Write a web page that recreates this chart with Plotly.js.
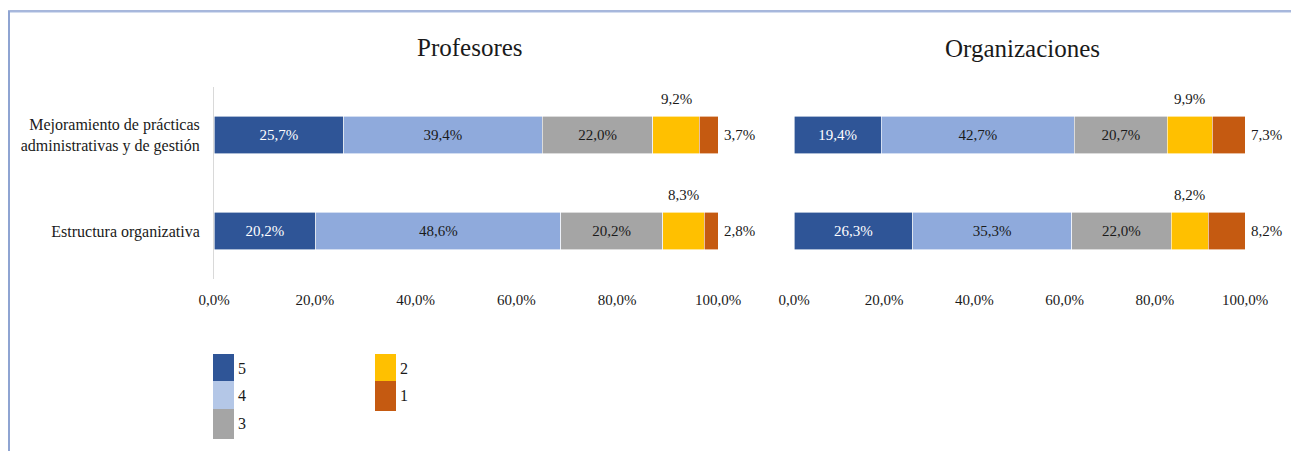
<!DOCTYPE html>
<html>
<head>
<meta charset="utf-8">
<script src="https://cdn.plot.ly/plotly-3.0.1.min.js"></script>
<style>html,body{margin:0;padding:0;background:#fff;} #chart{width:1291px;height:451px;}</style>
</head>
<body>
<div id="chart"></div>
<script>
// ---- Data ----
const categories = ['Mejoramiento de prácticas<br>administrativas y de gestión', 'Estructura organizativa'];
const levels = ['5', '4', '3', '2', '1'];
const panelTitles = ['Profesores', 'Organizaciones'];
// values per category, in order of levels 5,4,3,2,1
const profMejoramiento = [25.7, 39.4, 22.0, 9.2, 3.7];
const profEstructura   = [20.2, 48.6, 20.2, 8.3, 2.8];
const orgMejoramiento  = [19.4, 42.7, 20.7, 9.9, 7.3];
const orgEstructura    = [26.3, 35.3, 22.0, 8.2, 8.2];
const tickValues = [0, 20, 40, 60, 80, 100];

// ---- Styles ----
const barColors = ['#2f5597', '#8faadc', '#a5a5a5', '#ffc000', '#c55a11'];
const legendColors = ['#2f5597', '#b4c7e7', '#a5a5a5', '#ffc000', '#c55a11'];
const insideTextColors = ['#ffffff', '#1a1a1a', '#1a1a1a', '#1a1a1a', '#1a1a1a'];
const FONT = '"Liberation Serif", "DejaVu Serif", "Times New Roman", serif';
const W = 1291, H = 451;
const px = v => v / W;
const py = v => 1 - v / H;

const panels = [
  {rows: [profMejoramiento, profEstructura], xa: 'x', ya: 'y'},
  {rows: [orgMejoramiento, orgEstructura], xa: 'x2', ya: 'y2'}
];

const traces = [];
const annotations = [];
const fmt = v => v.toFixed(1).replace('.', ',') + '%';

panels.forEach((p, pi) => {
  levels.forEach((lv, li) => {
    const xs = p.rows.map(r => r[li]);
    traces.push({
      type: 'bar',
      orientation: 'h',
      name: lv,
      x: xs,
      y: categories,
      xaxis: p.xa,
      yaxis: p.ya,
      width: 0.39,
      marker: {color: barColors[li], line: {color: '#ffffff', width: 0.6}},
      text: li < 3 ? xs.map(fmt) : xs.map(() => ''),
      textposition: li < 3 ? 'inside' : 'none',
      insidetextanchor: 'middle',
      textfont: {family: FONT, size: 15, color: insideTextColors[li]},
      constraintext: 'none',
      hoverinfo: 'x+name',
      showlegend: false
    });
  });
  // outside labels for levels 2 and 1
  p.rows.forEach((r, ci) => {
    const cum = r.slice(0, 3).reduce((a, b) => a + b, 0);
    annotations.push({
      xref: p.xa, yref: p.ya, x: cum + r[3] / 2, y: categories[ci],
      xanchor: 'center', yanchor: 'middle',
      text: fmt(r[3]), showarrow: false, yshift: 36,
      font: {family: FONT, size: 15, color: '#1a1a1a'}
    });
    const total = cum + r[3] + r[4];
    annotations.push({
      xref: p.xa, yref: p.ya, x: Math.min(total, 100), y: categories[ci],
      text: fmt(r[4]), showarrow: false, xanchor: 'left', yanchor: 'middle', xshift: 4,
      font: {family: FONT, size: 15, color: '#1a1a1a'}
    });
  });
});

// Panel titles
annotations.push({xref: 'paper', yref: 'paper', x: px(470), y: py(47), xanchor: 'center', yanchor: 'middle',
  text: panelTitles[0], showarrow: false, font: {family: FONT, size: 25, color: '#1a1a1a'}});
annotations.push({xref: 'paper', yref: 'paper', x: px(1023), y: py(48), xanchor: 'center', yanchor: 'middle',
  text: panelTitles[1], showarrow: false, font: {family: FONT, size: 25, color: '#1a1a1a'}});

// Manual legend
const shapes = [];
const legendPos = [
  {x: 213, y: 354, h: 27}, {x: 213, y: 381, h: 28}, {x: 213, y: 409, h: 30},
  {x: 375, y: 354, h: 27}, {x: 375, y: 381, h: 30}
];
levels.forEach((lv, li) => {
  const lp = legendPos[li];
  shapes.push({type: 'rect', xref: 'paper', yref: 'paper',
    x0: px(lp.x), x1: px(lp.x + 21), y0: py(lp.y + lp.h), y1: py(lp.y),
    fillcolor: legendColors[li], line: {width: 0}});
  annotations.push({xref: 'paper', yref: 'paper', x: px(lp.x + 23), y: py(lp.y + 14),
    xanchor: 'left', yanchor: 'middle', text: lv, showarrow: false,
    font: {family: FONT, size: 16, color: '#1a1a1a'}});
});

// Frame lines
shapes.push({type: 'line', xref: 'paper', yref: 'paper', x0: px(8), x1: 1, y0: py(11), y1: py(11),
  line: {color: '#4f6fb6', width: 1}});
shapes.push({type: 'line', xref: 'paper', yref: 'paper', x0: px(8), x1: 1, y0: py(12), y1: py(12),
  line: {color: '#a9bbe0', width: 1}});
shapes.push({type: 'line', xref: 'paper', yref: 'paper', x0: px(9), x1: px(9), y0: py(11), y1: 0,
  line: {color: '#8fa4d2', width: 2}});

const xaxisCommon = {
  range: [0, 100], tickmode: 'array', tickvals: tickValues, ticktext: tickValues.map(fmt),
  showgrid: false, zeroline: false, showline: false, ticks: '',
  ticklabelstandoff: 10,
  tickfont: {family: FONT, size: 15, color: '#1a1a1a'}, fixedrange: true
};
const yaxisCommon = {
  autorange: 'reversed', showgrid: false, zeroline: false, ticks: '',
  domain: [py(279), py(87)], fixedrange: true,
  tickfont: {family: FONT, size: 16, color: '#1a1a1a'}
};

const layout = {
  width: W, height: H, autosize: false,
  margin: {l: 0, r: 0, t: 0, b: 0, pad: 0},
  paper_bgcolor: '#ffffff', plot_bgcolor: '#ffffff',
  barmode: 'stack',
  separators: ',.',
  showlegend: false,
  font: {family: FONT, color: '#1a1a1a'},
  xaxis: Object.assign({}, xaxisCommon, {domain: [px(214), px(718)], anchor: 'y'}),
  xaxis2: Object.assign({}, xaxisCommon, {domain: [px(794), px(1245)], anchor: 'y2'}),
  yaxis: Object.assign({}, yaxisCommon, {anchor: 'x', showline: true, linecolor: '#d9d9d9', linewidth: 1,
    ticklabelstandoff: 10}),
  yaxis2: Object.assign({}, yaxisCommon, {anchor: 'x2', showline: false, showticklabels: false}),
  annotations: annotations,
  shapes: shapes
};

Plotly.newPlot('chart', traces, layout, {displayModeBar: false, staticPlot: true});
</script>
</body>
</html>
